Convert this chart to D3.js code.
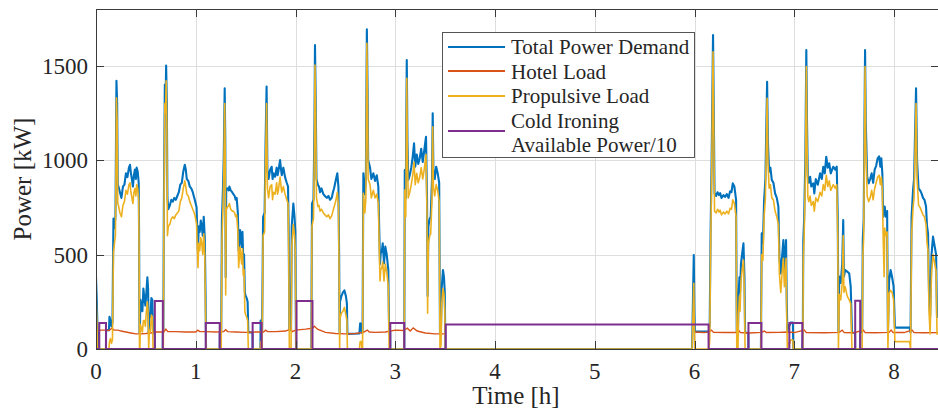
<!DOCTYPE html>
<html>
<head>
<meta charset="utf-8">
<script src="https://cdn.jsdelivr.net/npm/d3@7"></script>
<style>
  body { margin: 0; background: #fff; }
  svg { display: block; }
  text { font-family: "Liberation Serif", "Times New Roman", serif; fill: #262626; }
</style>
</head>
<body>
<svg id="chart" width="938" height="418"></svg>
<script>
// ---- data ----
const xTicks = [0, 1, 2, 3, 4, 5, 6, 7, 8];
const yTicks = [0, 500, 1000, 1500];

// sample times [h] shared by total demand and propulsive load
const timeH = [
  0.000, 0.008, 0.015, 0.032, 0.100, 0.101, 0.130, 0.135, 0.145, 0.155, 0.165,
  0.175, 0.185, 0.195, 0.205, 0.212, 0.218, 0.225, 0.240, 0.255, 0.270,
  0.285, 0.300, 0.315, 0.330, 0.341, 0.350, 0.360, 0.370, 0.380, 0.390,
  0.400, 0.408, 0.418, 0.428, 0.432, 0.436,
  0.440, 0.445, 0.455, 0.465, 0.475, 0.485, 0.495, 0.505, 0.515, 0.522,
  0.528, 0.535, 0.545, 0.555, 0.565, 0.572, 0.585, 0.589, 0.590, 0.669, 0.670,
  0.675, 0.680, 0.690, 0.697, 0.703, 0.710, 0.716, 0.725, 0.740, 0.755,
  0.770, 0.785, 0.800, 0.815, 0.830, 0.845, 0.860, 0.875, 0.890, 0.900,
  0.910, 0.925, 0.940, 0.955, 0.970, 0.985, 0.995, 1.008, 1.015, 1.022,
  1.030, 1.040, 1.050, 1.060, 1.070, 1.080, 1.090, 1.098, 1.103,
  1.240, 1.241, 1.255, 1.262, 1.272, 1.280, 1.290, 1.296, 1.300, 1.305, 1.317, 1.330,
  1.337, 1.350, 1.365, 1.377, 1.390, 1.400, 1.410, 1.422, 1.430, 1.444,
  1.452, 1.460, 1.468, 1.476, 1.484, 1.492, 1.500, 1.510, 1.520, 1.527,
  1.569, 1.570, 1.648, 1.650, 1.658, 1.660,
  1.665, 1.675, 1.690, 1.700, 1.710, 1.718, 1.730, 1.745, 1.761, 1.770,
  1.778, 1.795, 1.811, 1.820, 1.828, 1.845, 1.855, 1.862, 1.878, 1.895,
  1.912, 1.925, 1.932, 1.938, 1.955, 1.962, 1.978, 1.990, 1.998, 2.005,
  2.158, 2.165, 2.180, 2.190, 2.195, 2.202, 2.210, 2.225, 2.235, 2.246,
  2.260, 2.279, 2.295, 2.313, 2.330, 2.346, 2.363, 2.375, 2.386, 2.406,
  2.419, 2.430, 2.437, 2.442, 2.446, 2.460, 2.475, 2.490, 2.505, 2.515,
  2.520, 2.640, 2.648, 2.660, 2.665,
  2.672, 2.680, 2.695, 2.705, 2.715, 2.722, 2.728, 2.747, 2.760, 2.780,
  2.797, 2.814, 2.830, 2.840, 2.847, 2.854, 2.865, 2.874, 2.887, 2.900,
  2.914, 2.930, 2.938, 2.949, 2.950,
  3.090, 3.095, 3.105, 3.115, 3.122, 3.130, 3.145, 3.160, 3.175, 3.188,
  3.200, 3.215, 3.230, 3.245, 3.260, 3.275, 3.290, 3.308, 3.318, 3.324,
  3.332, 3.345, 3.355, 3.368, 3.375, 3.382, 3.395, 3.410, 3.425, 3.440,
  3.448, 3.458, 3.466, 3.478, 3.488, 3.496, 3.502, 5.975,
  5.985, 5.992, 5.998, 6.003, 6.145, 6.152, 6.160, 6.170, 6.185, 6.192,
  6.200, 6.216, 6.230, 6.245, 6.256, 6.270, 6.290, 6.305, 6.323, 6.340,
  6.356, 6.370, 6.383, 6.399, 6.416, 6.423, 6.435, 6.440, 6.450, 6.456,
  6.465, 6.473, 6.490, 6.500, 6.506, 6.539, 6.540,
  6.665, 6.673, 6.685, 6.697, 6.710, 6.727, 6.735, 6.747, 6.760, 6.774,
  6.790, 6.807, 6.824, 6.840, 6.850, 6.864, 6.877, 6.890, 6.900, 6.907,
  6.917, 6.924, 6.930, 6.940, 6.955, 6.962, 6.985, 6.990, 7.080,
  7.085, 7.090, 7.098, 7.110, 7.120, 7.127, 7.135, 7.145, 7.158, 7.170,
  7.190, 7.200, 7.215, 7.235, 7.258, 7.275, 7.290, 7.305, 7.320, 7.335,
  7.350, 7.365, 7.390, 7.410, 7.425, 7.435, 7.442, 7.450, 7.465, 7.480,
  7.490, 7.497, 7.510, 7.530, 7.550, 7.565, 7.578, 7.609, 7.610,
  7.660, 7.661, 7.680, 7.686, 7.695, 7.709, 7.716, 7.730, 7.745, 7.760, 7.775, 7.790,
  7.805, 7.820, 7.835, 7.850, 7.862, 7.872, 7.882, 7.890, 7.900, 7.906,
  7.915, 7.930, 7.938, 7.950, 7.965, 7.980, 7.995, 8.008, 8.155, 8.165,
  8.175, 8.190, 8.200, 8.220, 8.230, 8.245, 8.260, 8.275, 8.290, 8.305,
  8.320, 8.330, 8.340, 8.350, 8.361, 8.375, 8.390, 8.401, 8.421, 8.430,
  8.450
];

const totalKW = [
  380, 250, 110, 0, 0, 100, 100, 170, 150, 120, 140,
  690, 640, 700, 1420, 1300, 870, 860, 830, 800, 860,
  870, 930, 910, 960, 975, 930, 900, 860, 920, 950,
  900, 960, 940, 880, 600, 85,
  100, 260, 230, 200, 320, 270, 230, 300, 380, 320,
  82, 190, 170, 270, 260, 85, 85, 85, 0, 0, 90,
  90, 740, 1400, 1300, 1500, 1300, 800, 740, 760, 790,
  780, 800, 790, 810, 830, 870, 880, 940, 975, 950,
  900, 890, 860, 850, 830, 800, 780, 750, 630, 520,
  650, 620, 680, 650, 600, 700, 590, 300, 0,
  0, 90, 90, 680, 840, 1000, 1380, 1100, 380, 840, 850, 840,
  860, 840, 830, 820, 810, 790, 800, 720, 520, 630,
  580, 540, 620, 480, 500, 300, 280, 270, 250, 88,
  88, 0, 0, 150, 150, 90,
  90, 700, 720, 1100, 1389, 950, 900, 948, 965, 900,
  930, 912, 960, 920, 940, 1000, 950, 920, 960, 910,
  880, 860, 600, 100, 100, 650, 770, 700, 620, 0,
  0, 770, 790, 1200, 1609, 1336, 900, 868, 860, 830,
  850, 820, 810, 800, 810, 790, 800, 830, 850, 900,
  930, 860, 500, 82, 250, 280, 300, 310, 280, 240,
  80, 82, 136, 130, 85,
  88, 930, 820, 900, 1692, 1389, 1000, 960, 900, 930,
  890, 920, 860, 612, 450, 506, 520, 559, 453, 542,
  500, 420, 90, 90, 0,
  0, 948, 800, 1530, 1100, 895, 920, 960, 1020, 1089,
  965, 1030, 980, 1010, 1060, 990, 1050, 1124, 800, 280,
  650, 690, 700, 900, 1248, 950, 900, 965, 930, 880,
  80, 120, 330, 418, 380, 300, 0, 0,
  300, 498, 200, 92, 92, 145, 600, 965, 1662, 1292,
  824, 810, 830, 815, 825, 800, 815, 805, 820, 800,
  835, 830, 877, 860, 790, 87, 87, 277, 380, 300,
  450, 489, 559, 380, 86, 86, 0,
  0, 612, 560, 789, 900, 1415, 1100, 939, 960, 895,
  880, 824, 800, 754, 489, 400, 489, 577, 420, 480,
  577, 250, 88, 127, 127, 140, 140, 0, 0,
  87, 577, 683, 1000, 1583, 1200, 912, 880, 912, 860,
  877, 824, 900, 870, 930, 900, 965, 930, 1018, 960,
  983, 930, 965, 950, 965, 700, 87, 383, 350, 450,
  683, 383, 418, 410, 400, 330, 86, 86, 0,
  0, 90, 90, 577, 683, 1583, 1200, 912, 877, 900, 930, 880,
  950, 970, 1009, 1020, 965, 1010, 930, 700, 754, 754,
  700, 730, 88, 365, 418, 380, 330, 113, 113, 87,
  700, 842, 900, 1380, 1000, 850, 840, 824, 800, 789,
  754, 650, 612, 300, 170, 500, 595, 560, 500, 170,
  171
];

const propulsiveKW = [
  295, 160, 10, 0, 0, 0, 0, 40, 55, 30, 50,
  510, 560, 600, 1330, 1200, 770, 760, 720, 700, 760,
  780, 840, 820, 870, 880, 830, 800, 770, 830, 850,
  810, 870, 850, 790, 510, 0,
  0, 130, 110, 90, 150, 150, 120, 200, 250, 200,
  0, 100, 90, 180, 170, 0, 0, 0, 0, 0, 0,
  0, 640, 1300, 1250, 1420, 1200, 600, 650, 660, 690,
  700, 690, 710, 720, 730, 780, 800, 850, 890, 860,
  820, 810, 780, 760, 740, 720, 700, 660, 540, 430,
  560, 520, 590, 560, 500, 610, 500, 200, 0,
  0, 0, 0, 560, 740, 900, 1300, 1000, 286, 740, 750, 760,
  770, 740, 730, 730, 720, 700, 710, 620, 430, 540,
  490, 450, 530, 390, 420, 200, 180, 170, 150, 0,
  0, 0, 0, 40, 40, 0,
  0, 600, 620, 1000, 1300, 850, 800, 860, 870, 790,
  830, 820, 880, 820, 840, 910, 860, 830, 860, 820,
  790, 770, 500, 0, 0, 540, 660, 600, 520, 0,
  0, 650, 690, 1100, 1503, 1250, 800, 754, 760, 730,
  740, 720, 710, 700, 710, 690, 705, 730, 750, 790,
  830, 760, 400, 0, 160, 190, 200, 220, 180, 150,
  0, 0, 40, 40, 0,
  0, 824, 720, 800, 1618, 1300, 900, 870, 800, 840,
  800, 820, 770, 520, 360, 420, 430, 460, 360, 450,
  410, 330, 0, 0, 0,
  0, 842, 700, 1433, 1000, 800, 830, 870, 920, 990,
  870, 930, 880, 910, 960, 900, 950, 1030, 700, 189,
  560, 600, 610, 800, 1177, 860, 810, 870, 840, 780,
  0, 20, 240, 320, 290, 210, 0, 0,
  200, 348, 100, 0, 0, 50, 500, 870, 1574, 1200,
  730, 720, 740, 725, 735, 710, 725, 715, 730, 715,
  745, 740, 790, 770, 700, 0, 0, 180, 280, 200,
  360, 400, 471, 290, 0, 0, 0,
  0, 500, 470, 700, 800, 1327, 1000, 851, 870, 800,
  790, 730, 700, 660, 400, 300, 400, 480, 330, 380,
  480, 160, 0, 30, 30, 48, 48, 0, 0,
  0, 480, 590, 900, 1495, 1100, 806, 780, 810, 760,
  780, 730, 800, 780, 830, 810, 870, 840, 920, 860,
  890, 840, 870, 850, 870, 600, 0, 290, 260, 350,
  600, 300, 330, 280, 260, 240, 0, 0, 0,
  0, 0, 0, 480, 590, 1495, 1100, 810, 780, 800, 840, 790,
  850, 880, 910, 920, 870, 910, 840, 600, 383, 640,
  600, 620, 0, 295, 310, 300, 260, 39, 39, 0,
  600, 750, 800, 1300, 900, 762, 750, 730, 710, 700,
  660, 560, 520, 200, 80, 400, 500, 470, 410, 80,
  80
];

// hotel load (null = not plotted while at berth)
const hotelTime = [
  0.02, 0.05, 0.10, 0.13, 0.16, 0.18, 0.22, 0.25, 0.30, 0.35,
  0.40, 0.45, 0.50, 0.55, 0.60, 0.68, 0.70, 0.72, 0.80, 0.90,
  1.00, 1.02, 1.04, 1.10, 1.20, 1.28, 1.30, 1.32, 1.40, 1.50,
  1.60, 1.68, 1.70, 1.72, 1.80, 1.90, 1.95, 1.97, 2.00, 2.10,
  2.17, 2.19, 2.22, 2.30, 2.40, 2.50, 2.60, 2.68, 2.72, 2.74,
  2.80, 2.90, 3.00, 3.08, 3.12, 3.15, 3.18, 3.22, 3.30, 3.40,
  3.50, 4.75,
  6.00, 6.10, 6.15, 6.17, 6.19, 6.30, 6.42, 6.44, 6.46, 6.55,
  6.67, 6.70, 6.72, 6.85, 6.93, 7.00, 7.10, 7.12, 7.30, 7.45,
  7.48, 7.50, 7.60, 7.69, 7.71, 7.80, 7.95, 7.97, 7.99, 8.10,
  8.18, 8.20, 8.30, 8.45
];
const hotelKW = [
  95, 100, 100, 98, 110, 100, 100, 95, 90, 85,
  80, 80, 82, 85, 90, 90, 105, 92, 92, 90,
  90, 100, 92, 92, 90, 92, 102, 92, 90, 88,
  90, 90, 100, 92, 92, 95, 105, 92, 100, 105,
  110, 120, 105, 88, 82, 80, 82, 88, 100, 90,
  88, 90, 100, 98, 110, 95, 112, 95, 85, 80,
  80, null,
  90, 87, 92, 100, 88, 87, 87, 100, 87, 85,
  88, 95, 87, 88, 90, 87, 100, 87, 86, 88,
  100, 87, 86, 100, 87, 86, 88, 100, 87, 87,
  100, 87, 86, 87
];

// cold ironing available power / 10 (step changes)
const coldTime = [0, 0.033, 0.10, 0.59, 0.67, 1.10, 1.24, 1.57, 1.66, 2.01, 2.17,
  2.95, 3.09, 3.506, 6.14, 6.54, 6.67, 6.95, 7.08, 7.61, 7.66, 8.45];
const coldKW = [0, 137, 0, 254, 0, 137, 0, 137, 0, 254, 0,
  137, 0, 130, 0, 137, 0, 137, 0, 255, 0, 0];

const seriesNames = ["Total Power Demand", "Hotel Load", "Propulsive Load",
  "Cold Ironing", "Available Power/10"];
const colors = { total: "#0072BD", hotel: "#D95319", prop: "#EDB120", cold: "#7E2F8E" };

// ---- layout ----
const svg = d3.select("#chart");
const plotLeft = 96, plotRight = 939, plotTop = 9, plotBottom = 349;

const x = d3.scaleLinear().domain([0, 8.45]).range([plotLeft, plotRight]);
const y = d3.scaleLinear().domain([0, 1800]).range([plotBottom, plotTop]);

svg.append("defs").append("clipPath").attr("id", "plotClip")
  .append("rect")
  .attr("x", plotLeft).attr("y", plotTop)
  .attr("width", plotRight - plotLeft).attr("height", plotBottom - plotTop);

// grid
const grid = svg.append("g").attr("class", "grid");
grid.selectAll("line.gx").data(xTicks).join("line")
  .attr("class", "gx")
  .attr("x1", d => Math.round(x(d)) + 0.5).attr("x2", d => Math.round(x(d)) + 0.5)
  .attr("y1", plotTop).attr("y2", plotBottom)
  .attr("stroke", "#dedede").attr("stroke-width", 1);
grid.selectAll("line.gy").data(yTicks).join("line")
  .attr("class", "gy")
  .attr("x1", plotLeft).attr("x2", plotRight)
  .attr("y1", d => Math.round(y(d)) + 0.5).attr("y2", d => Math.round(y(d)) + 0.5)
  .attr("stroke", "#dedede").attr("stroke-width", 1);

// lines
const plot = svg.append("g").attr("clip-path", "url(#plotClip)");

const demandRows = timeH.map((t, i) => ({ t, total: totalKW[i], prop: propulsiveKW[i] }));
const hotelRows = hotelTime.map((t, i) => ({ t, v: hotelKW[i] }));
const coldRows = coldTime.map((t, i) => ({ t, v: coldKW[i] }));

const totalLine = d3.line().x(d => x(d.t)).y(d => y(d.total));
const propLine = d3.line().x(d => x(d.t)).y(d => y(d.prop));
const hotelLine = d3.line().defined(d => d.v != null).x(d => x(d.t)).y(d => y(d.v));
const coldLine = d3.line().curve(d3.curveStepAfter).x(d => x(d.t)).y(d => y(d.v));

plot.append("path").datum(demandRows)
  .attr("d", totalLine)
  .attr("fill", "none").attr("stroke", colors.total).attr("stroke-width", 2.1)
  .attr("stroke-linejoin", "round");

plot.append("path").datum(hotelRows)
  .attr("d", hotelLine)
  .attr("fill", "none").attr("stroke", colors.hotel).attr("stroke-width", 1.4);

plot.append("path").datum(demandRows)
  .attr("d", propLine)
  .attr("fill", "none").attr("stroke", colors.prop).attr("stroke-width", 1.6)
  .attr("stroke-linejoin", "round");

plot.append("path").datum(coldRows)
  .attr("d", coldLine)
  .attr("fill", "none").attr("stroke", colors.cold).attr("stroke-width", 2);

// axes box + inward ticks
const axisColor = "#3a3a3a";
svg.append("rect")
  .attr("x", plotLeft + 0.5).attr("y", plotTop + 0.5)
  .attr("width", plotRight - plotLeft).attr("height", plotBottom - plotTop)
  .attr("fill", "none").attr("stroke", axisColor).attr("stroke-width", 1);

const tickLen = 8;
const ticks = svg.append("g").attr("stroke", axisColor).attr("stroke-width", 1);
xTicks.forEach(d => {
  const px = Math.round(x(d)) + 0.5;
  ticks.append("line").attr("x1", px).attr("x2", px).attr("y1", plotBottom).attr("y2", plotBottom - tickLen);
  ticks.append("line").attr("x1", px).attr("x2", px).attr("y1", plotTop).attr("y2", plotTop + tickLen);
});
yTicks.forEach(d => {
  const py = Math.round(y(d)) + 0.5;
  ticks.append("line").attr("x1", plotLeft).attr("x2", plotLeft + tickLen).attr("y1", py).attr("y2", py);
  ticks.append("line").attr("x1", plotRight).attr("x2", plotRight - tickLen).attr("y1", py).attr("y2", py);
});

// tick labels
svg.selectAll("text.xt").data(xTicks).join("text")
  .attr("class", "xt")
  .attr("x", d => x(d)).attr("y", 379)
  .attr("text-anchor", "middle")
  .style("font-size", "23px")
  .text(d => d);

svg.selectAll("text.yt").data(yTicks).join("text")
  .attr("class", "yt")
  .attr("x", 88).attr("y", d => y(d) + 8)
  .attr("text-anchor", "end")
  .style("font-size", "23px")
  .text(d => d);

// axis labels
svg.append("text")
  .attr("x", 516).attr("y", 404)
  .attr("text-anchor", "middle")
  .style("font-size", "25px")
  .text("Time [h]");

svg.append("text")
  .attr("transform", "translate(31,179) rotate(-90)")
  .attr("text-anchor", "middle")
  .style("font-size", "25px")
  .text("Power [kW]");

// legend
const legend = svg.append("g").attr("class", "legend");
legend.append("rect")
  .attr("x", 442.5).attr("y", 32.5)
  .attr("width", 252).attr("height", 125)
  .attr("fill", "#fff").attr("stroke", "#555").attr("stroke-width", 1);

const legendItems = [
  { color: colors.total, lineY: 47, labels: [seriesNames[0]], textY: [54] },
  { color: colors.hotel, lineY: 71, labels: [seriesNames[1]], textY: [79] },
  { color: colors.prop, lineY: 96, labels: [seriesNames[2]], textY: [103] },
  { color: colors.cold, lineY: 131, labels: [seriesNames[3], seriesNames[4]], textY: [128, 152] }
];
legendItems.forEach(item => {
  legend.append("line")
    .attr("x1", 448).attr("x2", 505)
    .attr("y1", item.lineY).attr("y2", item.lineY)
    .attr("stroke", item.color).attr("stroke-width", 2);
  item.labels.forEach((lab, j) => {
    legend.append("text")
      .attr("x", 511).attr("y", item.textY[j])
      .style("font-size", "21px")
      .text(lab);
  });
});
</script>
</body>
</html>
